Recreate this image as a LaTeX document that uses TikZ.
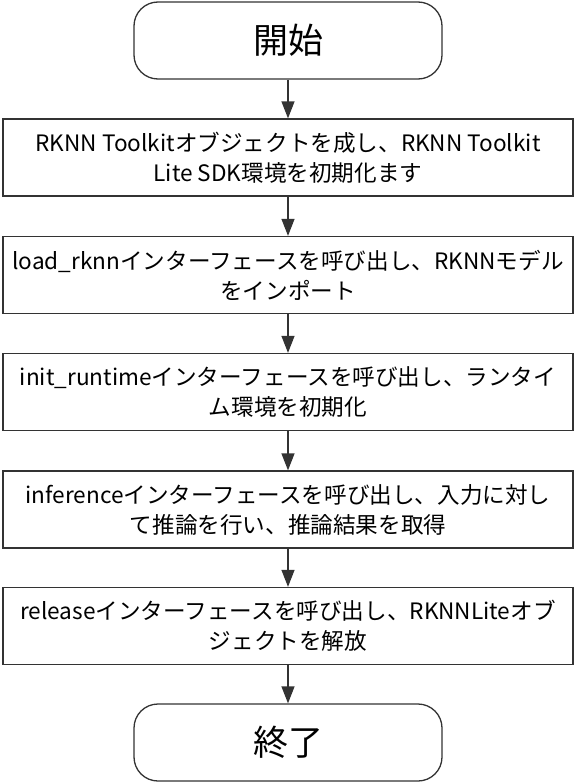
\documentclass[tikz,border=0pt]{standalone}
\usepackage{fontspec}
\setmainfont{Noto Sans CJK JP}
\usepackage{xcolor}
\usepackage{tikz}
\usetikzlibrary{arrows.meta,positioning}

\definecolor{edgegray}{HTML}{333333}

\begin{document}
\begin{tikzpicture}[x=1pt,y=1pt,
      term/.style={draw=edgegray,line width=1.3pt,rounded corners=24pt,
                   minimum width=308pt,minimum height=77pt,inner sep=0pt,
                   font=\fontsize{35}{40}\selectfont},
      proc/.style={draw=edgegray,line width=1.3pt,
                   minimum width=570pt,minimum height=77pt,inner sep=0pt,
                   align=center,font=\fontsize{22.6}{30}\selectfont},
      flow/.style={draw=edgegray,line width=1.3pt,
                   -{Triangle[length=17pt,width=13pt]}}]
    \useasboundingbox (0,0) rectangle (576,-784);
    % terminals and steps
    \node[term] (start) at (288,-40.5) {開始};
    \node[proc] (init) at (288,-157.5)
      {RKNN Toolkitオブジェクトを成し、RKNN Toolkit\\Lite SDK環境を初期化ます};
    \node[proc] (load) at (288,-275)
      {load\_rknnインターフェースを呼び出し、RKNNモデル\\をインポート};
    \node[proc] (runtime) at (288,-392)
      {init\_runtimeインターフェースを呼び出し、ランタイ\\ム環境を初期化};
    \node[proc] (infer) at (288,-509.5)
      {inferenceインターフェースを呼び出し、入力に対し\\て推論を行い、推論結果を取得};
    \node[proc] (release) at (288,-626)
      {releaseインターフェースを呼び出し、RKNNLiteオブ\\ジェクトを解放};
    \node[term] (stop) at (288,-742.5) {終了};
    % arrows
    \draw[flow] (start) -- (init);
    \draw[flow] (init) -- (load);
    \draw[flow] (load) -- (runtime);
    \draw[flow] (runtime) -- (infer);
    \draw[flow] (infer) -- (release);
    \draw[flow] (release) -- (stop);
\end{tikzpicture}
\end{document}
